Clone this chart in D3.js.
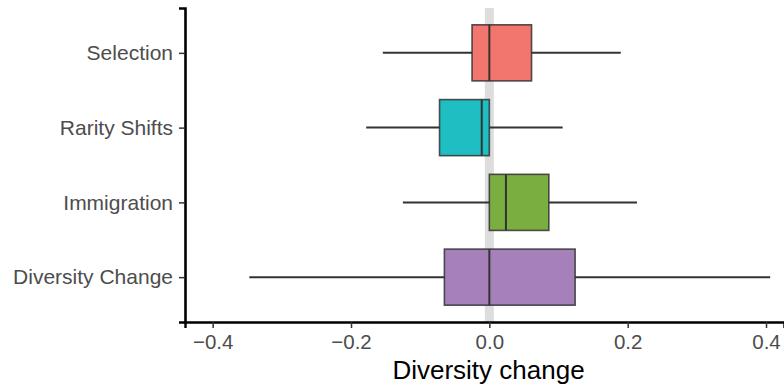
<!DOCTYPE html>
<html>
<head>
<meta charset="utf-8">
<script src="https://cdn.jsdelivr.net/npm/d3@7"></script>
<style>
  body { margin: 0; background: #fff; }
  text { font-family: "Liberation Sans", Arial, Helvetica, sans-serif; }
</style>
</head>
<body>
<div id="chart"></div>
<script>
// box plot data
var categories = ["Selection", "Rarity Shifts", "Immigration", "Diversity Change"];
var lowWhisker = [-0.154, -0.178, -0.125, -0.347];
var q1 = [-0.025, -0.072, 0.000, -0.065];
var median = [0.000, -0.011, 0.024, 0.000];
var q3 = [0.061, 0.000, 0.086, 0.124];
var highWhisker = [0.190, 0.106, 0.2135, 0.406];
var fills = ["#F3766E", "#1FBEC2", "#7AAE41", "#A680B9"];
var xTicks = [-0.4, -0.2, 0.0, 0.2, 0.4];

var data = categories.map(function (c, i) {
    return { name: c, lo: lowWhisker[i], q1: q1[i], med: median[i], q3: q3[i], hi: highWhisker[i], fill: fills[i] };
});

// set the dimensions and margins of the graph
var W = 784, H = 389;
var margin = { top: 8, right: 0, bottom: 67, left: 185 },
    width = W - margin.left - margin.right,
    height = H - margin.top - margin.bottom;

var svg = d3.select("#chart")
    .append("svg")
    .attr("width", W)
    .attr("height", H)
    .append("g")
    .attr("transform", "translate(" + margin.left + "," + margin.top + ")");

var x = d3.scaleLinear()
    .domain([-0.44, 0.426])
    .range([0, width]);

var y = d3.scalePoint()
    .domain(categories)
    .range([0, height])
    .padding(0.6);

var boxH = y.step() * 0.75;

// grey band at zero
svg.append("rect")
    .attr("x", x(-0.0065))
    .attr("width", x(0.0065) - x(-0.0065))
    .attr("y", 0)
    .attr("height", height)
    .attr("fill", "#DDDDDD");

// whiskers
svg.selectAll(".whisker")
    .data(data)
    .enter()
    .append("line")
    .attr("x1", function (d) { return x(d.lo); })
    .attr("x2", function (d) { return x(d.hi); })
    .attr("y1", function (d) { return y(d.name); })
    .attr("y2", function (d) { return y(d.name); })
    .attr("stroke", "#333333")
    .attr("stroke-width", 2);

// boxes
svg.selectAll(".box")
    .data(data)
    .enter()
    .append("rect")
    .attr("x", function (d) { return x(d.q1); })
    .attr("width", function (d) { return x(d.q3) - x(d.q1); })
    .attr("y", function (d) { return y(d.name) - boxH / 2; })
    .attr("height", boxH)
    .attr("fill", function (d) { return d.fill; })
    .attr("stroke", "#333333")
    .attr("stroke-opacity", 0.85)
    .attr("stroke-width", 1.6);

// medians
svg.selectAll(".median")
    .data(data)
    .enter()
    .append("line")
    .attr("x1", function (d) { return x(d.med); })
    .attr("x2", function (d) { return x(d.med); })
    .attr("y1", function (d) { return y(d.name) - boxH / 2; })
    .attr("y2", function (d) { return y(d.name) + boxH / 2; })
    .attr("stroke", "#333333")
    .attr("stroke-width", 2);

// X axis
var xAxis = svg.append("g")
    .attr("transform", "translate(0," + height + ")")
    .call(d3.axisBottom(x).tickValues(xTicks).tickFormat(function (d) {
        return d3.format(".1f")(d).replace("-", "\u2212");
    }).tickSizeOuter(0).tickSize(6).tickPadding(6));
xAxis.select(".domain").attr("stroke", "#000").attr("stroke-width", 2.4);
xAxis.selectAll(".tick line").attr("stroke", "#333").attr("stroke-width", 1.5);
xAxis.selectAll(".tick text")
    .attr("fill", "#4D4D4D")
    .style("font-size", "20.5px");

// Y axis
var yAxis = svg.append("g")
    .call(d3.axisLeft(y).tickSizeOuter(0).tickSize(6).tickPadding(6));
yAxis.select(".domain").attr("stroke", "#000").attr("stroke-width", 2.6);
yAxis.selectAll(".tick line").attr("stroke", "#333").attr("stroke-width", 1.5);
yAxis.selectAll(".tick text")
    .attr("fill", "#4D4D4D")
    .style("font-size", "21px");

// axis title
svg.append("text")
    .attr("x", width / 2 + 4)
    .attr("y", height + 57)
    .attr("text-anchor", "middle")
    .attr("fill", "#000")
    .style("font-size", "26px")
    .text("Diversity change");
</script>
</body>
</html>
